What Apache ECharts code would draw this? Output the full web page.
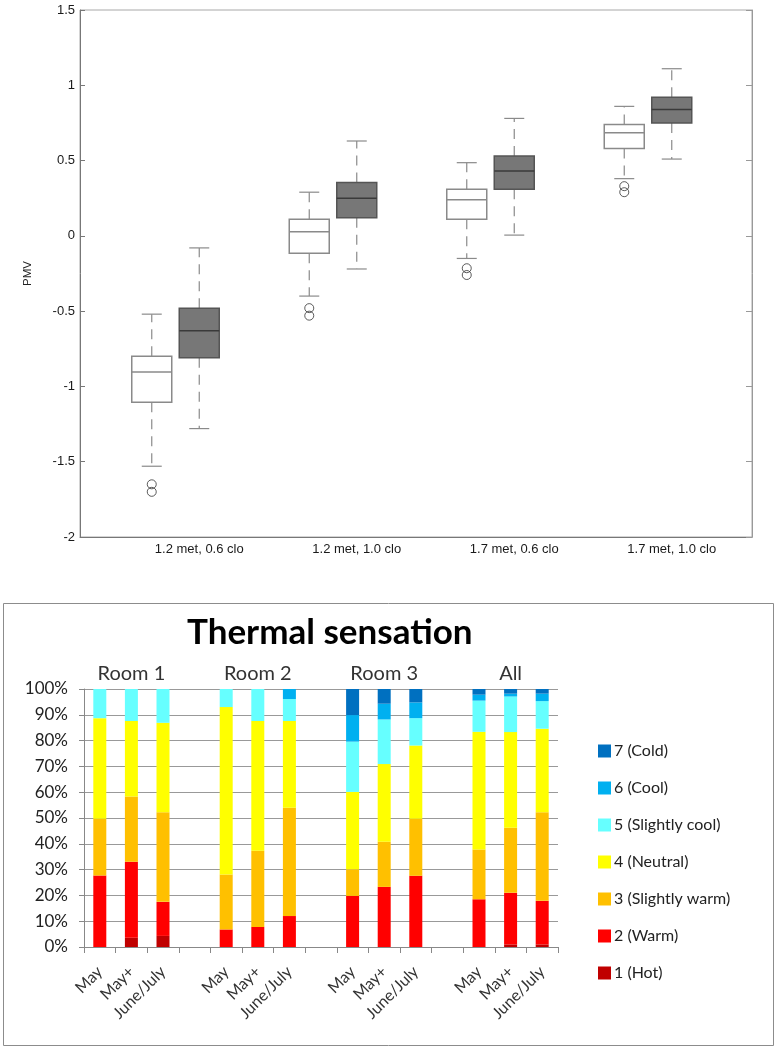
<!DOCTYPE html>
<html>
<head>
<meta charset="utf-8">
<script src="https://cdn.jsdelivr.net/npm/echarts@6/dist/echarts.min.js"></script>
<style>
  html, body { margin: 0; padding: 0; background: #fff; }
  #chart { width: 782px; height: 1048px; }
</style>
</head>
<body>
<div id="chart"></div>
<script>
/* PMV box plots: [min, q1, median, q3, max] per condition */
const pmvGroups = ['1.2 met, 0.6 clo', '1.2 met, 1.0 clo', '1.7 met, 0.6 clo', '1.7 met, 1.0 clo'];
const pmvLight = [
    [-1.53, -1.105, -0.905, -0.80, -0.52],
    [-0.40, -0.115, 0.027, 0.11, 0.29],
    [-0.15, 0.11, 0.24, 0.31, 0.486],
    [0.38, 0.58, 0.685, 0.74, 0.86]
];
const pmvDark = [
    [-1.28, -0.81, -0.63, -0.48, -0.08],
    [-0.22, 0.12, 0.25, 0.355, 0.63],
    [0.005, 0.31, 0.43, 0.53, 0.78],
    [0.51, 0.75, 0.84, 0.92, 1.11]
];
/* outliers of the light boxes: [group index, value] */
const pmvOutliers = [
    [0, -1.65], [0, -1.70],
    [1, -0.48], [1, -0.53],
    [2, -0.215], [2, -0.26],
    [3, 0.33], [3, 0.29]
];

/* Thermal sensation, % of votes */
const rooms = ['Room 1', 'Room 2', 'Room 3', 'All'];
const periods = ['May', 'May+', 'June/July'];
const hot          = [0, 3.6, 4.3,    0, 0, 0,        0, 0, 0,          0, 1.0, 1.0];
const warm         = [27.7, 29.4, 13.2, 6.8, 7.8, 12.0, 19.8, 23.3, 27.6, 18.5, 20.0, 16.9];
const slightlyWarm = [22.0, 25.3, 34.7, 21.3, 29.5, 42.0, 10.3, 17.5, 22.1, 19.3, 25.2, 34.3];
const neutral      = [39.0, 29.3, 34.7, 64.9, 50.3, 33.6, 30.0, 30.1, 28.4, 45.6, 37.1, 32.4];
const slightlyCool = [11.3, 12.4, 13.1, 7.0, 12.4, 8.5, 19.5, 17.3, 10.6, 12.1, 13.8, 10.7];
const cool         = [0, 0, 0,        0, 0, 3.9,       10.3, 6.1, 6.1,   2.3, 1.1, 2.9];
const cold         = [0, 0, 0,        0, 0, 0,         10.1, 5.7, 5.2,   2.2, 1.8, 1.8];
const yTicks = [0, 10, 20, 30, 40, 50, 60, 70, 80, 90, 100];

const levels = [
    {name: '1 (Hot)', data: hot, color: '#C00000'},
    {name: '2 (Warm)', data: warm, color: '#FF0000'},
    {name: '3 (Slightly warm)', data: slightlyWarm, color: '#FFC000'},
    {name: '4 (Neutral)', data: neutral, color: '#FFFF00'},
    {name: '5 (Slightly cool)', data: slightlyCool, color: '#66FFFF'},
    {name: '6 (Cool)', data: cool, color: '#00B0F0'},
    {name: '7 (Cold)', data: cold, color: '#0070C0'}
];

/* categories with an empty slot between the rooms */
let barCats = [], roomCats = [];
rooms.forEach((r, i) => {
    if (i > 0) { barCats.push(''); roomCats.push(''); }
    periods.forEach((p, j) => {
        barCats.push(p);
        roomCats.push(j === 1 ? r : '');
    });
});
let withGaps = (arr) => {
    let out = [];
    arr.forEach((v, i) => {
        if (i > 0 && i % 3 === 0) out.push('-');
        out.push(v);
    });
    return out;
};

const sansTop = '"Liberation Sans", Arial, sans-serif';
const sansBot = 'Lato, "Open Sans", sans-serif';

/* box + dashed whiskers, drawn through the axis scale */
function boxRenderer(shift, fill, edge, mid) {
    return function (params, api) {
        let c = api.value(0);
        let lo = api.coord([c, api.value(1)]);
        let q1 = api.coord([c, api.value(2)]);
        let md = api.coord([c, api.value(3)]);
        let q3 = api.coord([c, api.value(4)]);
        let hi = api.coord([c, api.value(5)]);
        let x = md[0] + shift, hw = 20, cw = 10;
        let wStyle = {stroke: '#8a8a8a', lineWidth: 1.2, lineDash: [10, 7]};
        let cStyle = {stroke: '#8a8a8a', lineWidth: 1.2};
        return {
            type: 'group',
            children: [
                {type: 'line', shape: {x1: x, y1: q3[1], x2: x, y2: hi[1]}, style: wStyle},
                {type: 'line', shape: {x1: x, y1: q1[1], x2: x, y2: lo[1]}, style: wStyle},
                {type: 'line', shape: {x1: x - cw, y1: hi[1], x2: x + cw, y2: hi[1]}, style: cStyle},
                {type: 'line', shape: {x1: x - cw, y1: lo[1], x2: x + cw, y2: lo[1]}, style: cStyle},
                {type: 'rect', shape: {x: x - hw, y: q3[1], width: 2 * hw, height: q1[1] - q3[1]},
                    style: {fill: fill, stroke: edge, lineWidth: 1.5}},
                {type: 'line', shape: {x1: x - hw, y1: md[1], x2: x + hw, y2: md[1]},
                    style: {stroke: mid, lineWidth: 1.5}}
            ]
        };
    };
}

let myChart = echarts.init(document.getElementById('chart'));

let option = {
    animation: false,
    backgroundColor: '#fff',
    title: {
        text: 'Thermal sensation',
        left: 182,
        top: 610,
        textStyle: {fontFamily: sansBot, fontWeight: 'bold', fontSize: 35, color: '#000'}
    },
    legend: {
        orient: 'vertical',
        left: 593,
        top: 738,
        itemWidth: 13,
        itemHeight: 13,
        itemGap: 21,
        icon: 'rect',
        data: levels.map(l => l.name).reverse(),
        textStyle: {fontFamily: sansBot, fontSize: 16, color: '#222', padding: [0, 0, 0, -2]}
    },
    graphic: [{
        type: 'rect',
        shape: {x: 3.5, y: 603.5, width: 770, height: 442},
        style: {fill: 'none', stroke: '#8c8c8c', lineWidth: 1}
    }],
    grid: [
        {left: 80, top: 10, width: 672, height: 527, show: true, borderColor: '#a8a8a8', borderWidth: 1},
        {left: 120.5, top: 10, width: 630, height: 527},
        {left: 84, top: 689, width: 474, height: 258}
    ],
    xAxis: [
        {gridIndex: 0, type: 'value', min: 0, max: 1,
            axisLine: {show: true, onZero: false, lineStyle: {color: '#777'}},
            axisTick: {show: false}, axisLabel: {show: false}, splitLine: {show: false}},
        {gridIndex: 1, type: 'category', data: pmvGroups,
            axisLine: {show: false}, axisTick: {show: false},
            axisLabel: {margin: 6, fontFamily: sansTop, fontSize: 13, color: '#1a1a1a'}},
        {gridIndex: 2, type: 'category', data: barCats,
            axisLine: {show: true, lineStyle: {color: '#888'}},
            axisTick: {show: true, interval: 0, length: 6, lineStyle: {color: '#888'}},
            axisLabel: {interval: 0, rotate: 45, margin: 22, fontFamily: sansBot, fontSize: 16, color: '#333'}},
        {gridIndex: 2, type: 'category', data: roomCats, position: 'top',
            axisLine: {show: false}, axisTick: {show: false},
            axisLabel: {interval: 0, margin: 5, fontFamily: sansBot, fontSize: 20, color: '#333'}}
    ],
    yAxis: [
        {gridIndex: 0, type: 'value', min: -2, max: 1.5, interval: 0.5,
            name: 'PMV', nameLocation: 'middle', nameGap: 46, nameRotate: 90,
            nameTextStyle: {fontFamily: sansTop, fontSize: 11.5, color: '#222'},
            axisLine: {show: true, lineStyle: {color: '#777'}},
            axisTick: {show: true, inside: true, length: 5, lineStyle: {color: '#777'}},
            axisLabel: {margin: 5, fontFamily: sansTop, fontSize: 13, color: '#1a1a1a'},
            splitLine: {show: false}},
        {gridIndex: 0, type: 'value', min: -2, max: 1.5, interval: 0.5, position: 'right',
            axisLine: {show: true, lineStyle: {color: '#999'}},
            axisTick: {show: true, inside: true, length: 6, lineStyle: {color: '#999'}},
            axisLabel: {show: false}, splitLine: {show: false}},
        {gridIndex: 1, type: 'value', min: -2, max: 1.5, show: false},
        {gridIndex: 2, type: 'value', min: yTicks[0], max: yTicks[yTicks.length - 1], interval: 10,
            axisLine: {show: true, lineStyle: {color: '#888'}},
            axisTick: {show: true, length: 5, lineStyle: {color: '#888'}},
            axisLabel: {formatter: '{value}%', margin: 16, fontFamily: sansBot, fontSize: 17, color: '#222'},
            splitLine: {show: true, lineStyle: {color: '#999'}}}
    ],
    series: [
        {
            type: 'custom', name: 'light', xAxisIndex: 1, yAxisIndex: 2,
            renderItem: boxRenderer(-47.5, '#fff', '#8a8a8a', '#8a8a8a'),
            encode: {x: 0, y: [1, 2, 3, 4, 5]},
            data: pmvLight.map((b, i) => [i].concat(b))
        },
        {
            type: 'custom', name: 'dark', xAxisIndex: 1, yAxisIndex: 2,
            renderItem: boxRenderer(0, '#777', '#555', '#3a3a3a'),
            encode: {x: 0, y: [1, 2, 3, 4, 5]},
            data: pmvDark.map((b, i) => [i].concat(b))
        },
        {
            type: 'scatter', name: 'outliers', xAxisIndex: 1, yAxisIndex: 2,
            symbol: 'circle', symbolSize: 9, symbolOffset: [-47.5, 0],
            itemStyle: {color: 'rgba(0,0,0,0)', borderColor: '#333', borderWidth: 1},
            data: pmvOutliers
        }
    ].concat(levels.map(l => ({
        type: 'bar', name: l.name, xAxisIndex: 2, yAxisIndex: 3,
        stack: 'ts', barWidth: 13,
        itemStyle: {color: l.color},
        data: withGaps(l.data)
    })))
};

myChart.setOption(option);
</script>
</body>
</html>
